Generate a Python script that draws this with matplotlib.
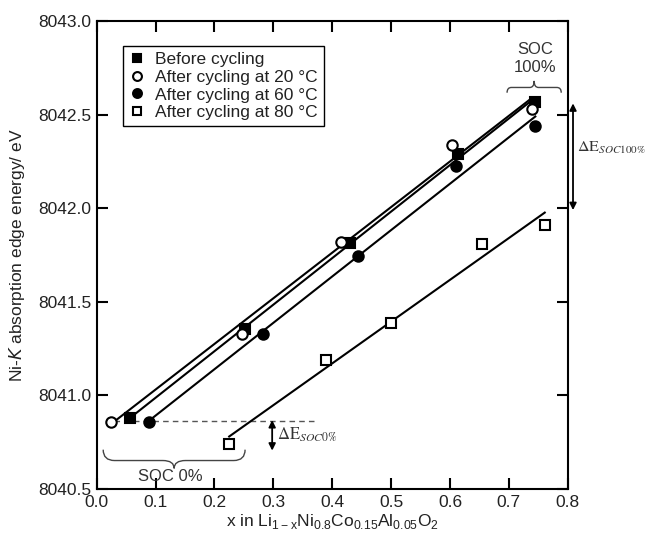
import numpy as np
import matplotlib
matplotlib.use("Agg")
import matplotlib.pyplot as plt
from matplotlib.path import Path
from matplotlib.patches import PathPatch

plt.rcParams['font.family'] = ['Liberation Sans', 'DejaVu Sans']
plt.rcParams['font.size'] = 12.5

# x in Li(1-x)Ni0.8Co0.15Al0.05O2 , Ni-K edge energy / eV
x_before = [0.057, 0.252, 0.430, 0.614, 0.745]
e_before = [8040.88, 8041.355, 8041.815, 8042.29, 8042.57]
x_20 = [0.024, 0.246, 0.415, 0.603, 0.740]
e_20 = [8040.86, 8041.33, 8041.82, 8042.34, 8042.53]
x_60 = [0.089, 0.282, 0.444, 0.611, 0.745]
e_60 = [8040.86, 8041.33, 8041.745, 8042.225, 8042.44]
x_80 = [0.225, 0.389, 0.500, 0.654, 0.761]
e_80 = [8040.74, 8041.19, 8041.385, 8041.81, 8041.91]

labels = ['Before cycling', 'After cycling at 20 °C',
          'After cycling at 60 °C', 'After cycling at 80 °C']

fig = plt.figure(figsize=(6.5, 5.39), dpi=100)
ax = fig.add_axes([0.1488, 0.0928, 0.7246, 0.8682])

series = [
    (x_before, e_before, 's', 'k', labels[0]),
    (x_20, e_20, 'o', 'white', labels[1]),
    (x_60, e_60, 'o', 'k', labels[2]),
    (x_80, e_80, 's', 'white', labels[3]),
]

for xs, es, m, fc, lab in series:
    xs = np.array(xs)
    es = np.array(es)
    p = np.polyfit(xs, es, 1)
    xf = np.array([xs.min(), xs.max()])
    ax.plot(xf, np.polyval(p, xf), color='k', lw=1.5, zorder=2)
for xs, es, m, fc, lab in series:
    ax.plot(xs, es, linestyle='none', marker=m, markersize=7.5 if m == 'o' else 7,
            markerfacecolor=fc, markeredgecolor='k', markeredgewidth=1.5,
            label=lab, zorder=3)

# SOC 0% reference level
ax.plot([0.03, 0.376], [8040.863, 8040.863], color='#555555', lw=1,
        linestyle=(0, (4, 3)), zorder=1)


def brace(x0, x1, y_end, y_mid, y_tip):
    xc = (x0 + x1) / 2
    r = (x1 - x0) * 0.08
    verts = [(x0, y_end), (x0, y_mid), (x0 + r, y_mid),
             (xc - r, y_mid), (xc, y_mid), (xc, y_tip),
             (xc, y_mid), (xc + r, y_mid),
             (x1 - r, y_mid), (x1, y_mid), (x1, y_end)]
    codes = [Path.MOVETO, Path.CURVE3, Path.CURVE3,
             Path.LINETO, Path.CURVE3, Path.CURVE3,
             Path.CURVE3, Path.CURVE3,
             Path.LINETO, Path.CURVE3, Path.CURVE3]
    ax.add_patch(PathPatch(Path(verts, codes), fill=False, lw=1,
                           edgecolor='#444444', clip_on=False))


brace(0.011, 0.252, 8040.71, 8040.652, 8040.61)
ax.text(0.125, 8040.568, 'SOC 0%', ha='center', va='center',
        color='#333333', fontsize=12)

brace(0.697, 0.789, 8042.617, 8042.645, 8042.68)
ax.text(0.745, 8042.80, 'SOC\n100%', ha='center', va='center',
        color='#333333', fontsize=12, linespacing=1.2)

# Delta E arrows
ax.annotate('', xy=(0.298, 8040.705), xytext=(0.298, 8040.868),
            arrowprops=dict(arrowstyle='<|-|>', color='k', lw=1.3,
                            mutation_scale=10, shrinkA=0, shrinkB=0))
ax.text(0.306, 8040.79, r'$\Delta\mathrm{E}_{\mathit{SOC0\%}}$',
        math_fontfamily='stix', fontsize=12, color='#333333', va='center')

ax.annotate('', xy=(0.809, 8041.99), xytext=(0.809, 8042.56),
            arrowprops=dict(arrowstyle='<|-|>', color='k', lw=1.3,
                            mutation_scale=10, shrinkA=0, shrinkB=0),
            annotation_clip=False)
ax.text(0.815, 8042.32, r'$\Delta\mathrm{E}_{\mathit{SOC100\%}}$',
        math_fontfamily='stix', fontsize=11.5, color='#333333', va='center',
        clip_on=False)

ax.set_xlim(0, 0.8)
ax.set_ylim(8040.5, 8043.0)
ax.set_xticks(np.arange(0, 0.81, 0.1))
ax.set_yticks(np.arange(8040.5, 8043.01, 0.5))
ax.xaxis.set_major_formatter(plt.FormatStrFormatter('%.1f'))
ax.yaxis.set_major_formatter(plt.FormatStrFormatter('%.1f'))
ax.tick_params(direction='in', length=8, width=1.5, top=True, right=True,
               labelcolor='#222222', pad=4)
for s in ax.spines.values():
    s.set_linewidth(1.5)

ax.set_xlabel(r'x in Li$_{\mathregular{1-x}}$Ni$_{\mathregular{0.8}}$'
              r'Co$_{\mathregular{0.15}}$Al$_{\mathregular{0.05}}$O$_{\mathregular{2}}$',
              color='#222222', labelpad=2)
ax.set_ylabel(r'Ni-$\mathit{K}$ absorption edge energy/ eV', color='#222222',
              labelpad=8)

leg = ax.legend(loc='upper left', bbox_to_anchor=(0.056, 0.947), borderaxespad=0,
                fancybox=False, edgecolor='k', framealpha=1, fontsize=12.5,
                handlelength=0.9, handletextpad=0.6, labelspacing=0.15,
                borderpad=0.35, markerscale=0.85)
leg.get_frame().set_linewidth(1.0)
for t in leg.get_texts():
    t.set_color('#222222')

fig.savefig('out.png', dpi=100)
